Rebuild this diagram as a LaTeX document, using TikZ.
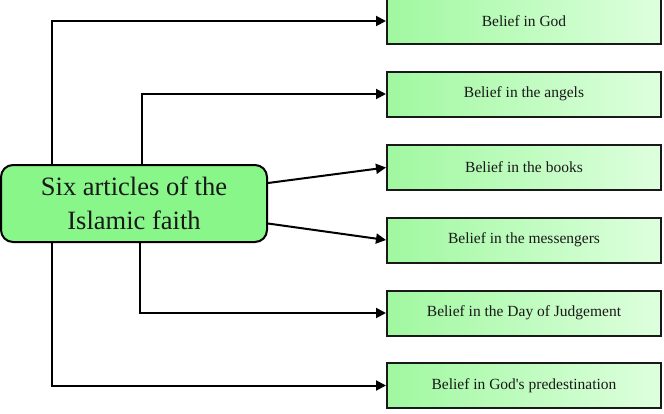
\documentclass[tikz,border=0pt]{standalone}
\usepackage{fontspec}
\setmainfont{Liberation Serif}
\usetikzlibrary{arrows.meta}
\definecolor{maingreen}{RGB}{136,246,136}
\definecolor{gleft}{RGB}{160,248,160}
\definecolor{gright}{RGB}{222,255,222}
\definecolor{txt}{RGB}{25,25,25}
\tikzset{
  mainbox/.style={draw=black, line width=2pt, fill=maingreen, rounded corners=12pt,
    minimum width=266pt, minimum height=77pt, inner sep=0pt, align=center,
    font=\fontsize{26.5}{34}\selectfont, text=txt},
  itembox/.style={draw=black!90, line width=2pt, left color=gleft, right color=gright,
    minimum width=274pt, minimum height=45pt, inner sep=0pt,
    font=\fontsize{15.5}{18}\selectfont, text=txt},
  conn/.style={draw=black, line width=2pt, -{Triangle[length=10pt,width=10pt]}}
}
\begin{document}
\begin{tikzpicture}[x=1pt,y=-1pt]
\useasboundingbox (0,0) rectangle (664,413);
\node[mainbox] (main) at (134,203.5) {Six articles of the\\Islamic faith};
\node[itembox] (b1) at (524,21) {Belief in God};
\node[itembox] (b2) at (524,94) {Belief in the angels};
\node[itembox] (b3) at (524,167.5) {Belief in the books};
\node[itembox] (b4) at (524,240) {Belief in the messengers};
\node[itembox] (b5) at (524,313) {Belief in the Day of Judgement};
\node[itembox] (b6) at (524,385.5) {Belief in God\textquotesingle s predestination};
\draw[conn] (main.north west) ++(52,0) |- (b1.west);
\draw[conn] (main.north west) ++(142,0) |- (b2.west);
\draw[conn] (main.east) ++(0,-20.5) -- (b3.west);
\draw[conn] (main.east) ++(0,20) -- (b4.west);
\draw[conn] (main.south west) ++(139.5,0) |- (b5.west);
\draw[conn] (main.south west) ++(52,0) |- (b6.west);
\end{tikzpicture}
\end{document}
